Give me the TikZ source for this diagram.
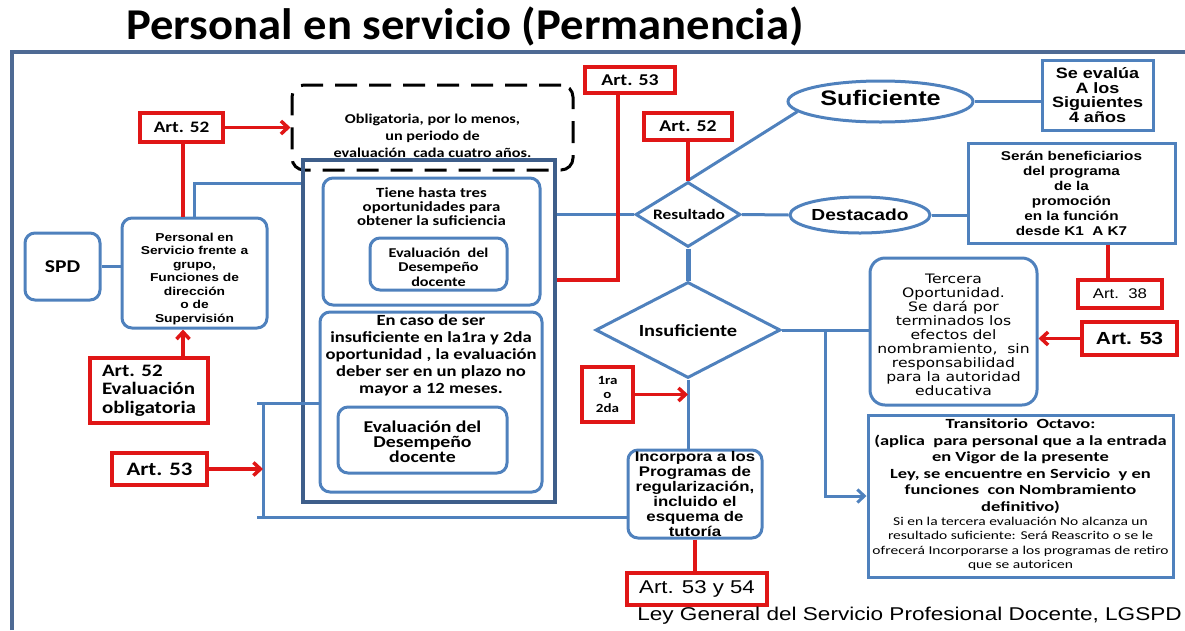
\documentclass[tikz,border=0pt]{standalone}
\usepackage{fontspec}
\setmainfont[FakeStretch=1.2]{Carlito}
\newfontfamily\arialf[FakeStretch=1.2]{Liberation Sans}
\newfontfamily\dejaf[FakeStretch=1.2]{DejaVu Sans}
\newfontfamily\titlef[FakeStretch=1.06]{Carlito}
\newfontfamily\widef[FakeStretch=1.32]{Carlito}
\newfontfamily\xwidef[FakeStretch=1.29]{Carlito}
\newfontfamily\footf[FakeStretch=1.22]{Liberation Sans}
\usetikzlibrary{shapes.geometric,arrows.meta,calc}
\definecolor{blu}{RGB}{79,129,189}
\definecolor{dblu}{RGB}{62,94,138}
\definecolor{frm}{RGB}{78,106,148}
\definecolor{rd}{RGB}{224,22,22}
\newcommand\fsz[2]{\fontsize{#1}{#2}\selectfont}
\begin{document}
\begin{tikzpicture}[x=1pt,y=-1pt,
  bl/.style={draw=blu,line width=3pt},
  rbox/.style={bl,rounded corners=10pt,inner sep=0pt},
  sbox/.style={bl,inner sep=0pt},
  redbox/.style={draw=rd,line width=3.5pt,inner sep=0pt,fill=white},
  redl/.style={draw=rd,line width=3.5pt},
  blul/.style={draw=blu,line width=3pt},
  rarr/.style={redl,-{Straight Barb[length=7pt,width=13pt]}},
  barr/.style={blul,-{Straight Barb[length=7pt,width=13pt]}},
  txt/.style={inner sep=0pt,align=center}]
\useasboundingbox (0,0) rectangle (1185,630);
% frame
\draw[draw=frm,line width=4pt] (12,630) -- (12,52) -- (1185,52);
\node[anchor=base,inner sep=0pt,font={\titlef\bfseries\fsz{44}{48}}] (title) at (465,39) {Personal en servicio (Permanencia)};
% helper coordinates
\coordinate (yA) at (0,183);
\coordinate (y280) at (0,280);
\coordinate (x618) at (618,0);
\coordinate (x1108) at (1108,0);
\coordinate (x183) at (183,0);
\coordinate (J) at (825,330);
\coordinate (B1) at (263,403);
\coordinate (B2) at (263,517);
\coordinate (B1l) at (257,403);
\coordinate (B2l) at (257,517);
% left
\node[rbox,minimum width=75pt,minimum height=67pt,font={\bfseries\fsz{18}{20}}] (spd) at (62.5,266.5) {SPD};
\node[rbox,minimum width=145pt,minimum height=110pt] (pers) at (194.5,273) {};
\node[txt,font={\arialf\bfseries\fsz{11.5}{13.5}}] (persT) at (194.5,279) {Personal en\\Servicio frente a\\grupo,\\Funciones de\\dirección\\o de\\Supervisión};
\node[redbox,minimum width=83pt,minimum height=29pt,font={\bfseries\fsz{16}{18}}] (a52a) at (181.5,127.5) {Art. 52};
\node[redbox,minimum width=118pt,minimum height=65pt,align=left,font={\bfseries\fsz{17.5}{18.5}}] (a52b) at (149,390.5) {Art. 52\\Evaluación\\obligatoria};
\node[redbox,minimum width=95pt,minimum height=32pt,font={\bfseries\fsz{19}{21}}] (a53l) at (159.5,469) {Art. 53};
% center block
\node[draw=black,line width=3pt,dash pattern=on 22pt off 12pt,rounded corners=12pt,minimum width=281pt,minimum height=85pt,inner sep=0pt] (dash) at (432.5,127.5) {};
\node[txt,font={\bfseries\fsz{13.5}{17}}] (dashT) at (432.5,135.5) {Obligatoria, por lo menos,\\un periodo de\\evaluación\ \ cada cuatro años.};
\node[draw=dblu,line width=4.5pt,minimum width=252pt,minimum height=342pt,inner sep=0pt] (big) at (429,331) {};
\node[rbox,minimum width=217pt,minimum height=127pt] (in1) at (431.5,241.5) {};
\node[txt,font={\bfseries\fsz{14}{14}}] (in1T) at (431.5,207) {Tiene hasta tres\\oportunidades para\\obtener la suficiencia};
\node[rbox,minimum width=137pt,minimum height=52pt] (ev1) at (438.5,264) {};
\node[txt,font={\bfseries\fsz{13.5}{14.5}}] (ev1T) at (438.5,267) {Evaluación\ \ del\\Desempeño\\docente};
\node[rbox,minimum width=222pt,minimum height=180pt] (in2) at (431,402) {};
\node[txt,font={\bfseries\fsz{15.5}{17}}] (in2T) at (431,355) {En caso de ser\\insuficiente en la1ra y 2da\\oportunidad , la evaluación\\deber ser en un plazo no\\mayor a 12 meses.};
\node[rbox,minimum width=169pt,minimum height=66pt] (ev2) at (422.5,440) {};
\node[txt,font={\bfseries\fsz{16.5}{15}}] (ev2T) at (422.5,442) {Evaluación del\\Desempeño\\docente};
% top red
\node[redbox,minimum width=90pt,minimum height=26pt,font={\bfseries\fsz{16.5}{18}}] (a53t) at (630,80) {Art. 53};
\node[redbox,minimum width=88pt,minimum height=27pt,font={\bfseries\fsz{16.5}{18}}] (a52t) at (688,126.5) {Art. 52};
% decisions
\node[bl,diamond,minimum width=105pt,minimum height=65pt,inner sep=0pt] (res) at (688,214.5) {};
\node[txt,font={\bfseries\fsz{14.5}{16}}] (resT) at (689,214.5) {Resultado};
\node[bl,diamond,minimum width=185pt,minimum height=96pt,inner sep=0pt] (ins) at (688,330) {};
\node[txt,font={\bfseries\fsz{17}{19}}] (insT) at (688,331) {Insuficiente};
\node[bl,ellipse,minimum width=185pt,minimum height=41pt,inner sep=0pt] (suf) at (880.5,101.5) {};
\node[txt,font={\arialf\bfseries\fsz{21}{23}}] (sufT) at (880.5,98) {Suficiente};
\node[bl,ellipse,minimum width=140pt,minimum height=36pt,inner sep=0pt] (des) at (860,215) {};
\node[txt,font={\arialf\bfseries\fsz{16}{18}}] (desT) at (860,215) {Destacado};
% right
\node[sbox,minimum width=111pt,minimum height=70pt,align=center,font={\arialf\bfseries\fsz{15}{14.5}}] (sev) at (1097.5,95) {Se evalúa\\A los\\Siguientes\\4 años};
\node[sbox,minimum width=207pt,minimum height=100pt,align=center,font={\arialf\bfseries\fsz{12.75}{15}}] (ser) at (1071.5,193) {Serán beneficiarios\\del programa\\de la\\promoción\\en la función\\desde K1\ \ A K7};
\node[redbox,minimum width=84pt,minimum height=28pt,font={\arialf\fsz{14}{16}}] (a38) at (1120,294) {Art.\ \ 38};
\node[redbox,minimum width=95pt,minimum height=33pt,font={\arialf\bfseries\fsz{17.5}{20}}] (a53r) at (1129.5,338.5) {Art. 53};
\node[rbox,rounded corners=15pt,minimum width=167pt,minimum height=147pt] (ter) at (953.5,331.5) {};
\node[txt,font={\dejaf\fsz{13}{14}}] (terT) at (953.5,335) {Tercera\\Oportunidad.\\Se dará por\\terminados los\\efectos del\\nombramiento,\ \ sin\\responsabilidad\\para la autoridad\\educativa};
\node[sbox,minimum width=305pt,minimum height=162pt] (tra) at (1020.5,496) {};
\node[txt,font={\widef\bfseries\fsz{14}{16.5}}] (traT1) at (1020.5,466) {Transitorio\ \ Octavo:\\(aplica\ \ para personal que a la entrada\\en Vigor de la presente\\Ley, se encuentre en Servicio\ \ y en\\funciones\ \ con Nombramiento\\definitivo)};
\node[txt,font={\xwidef\fsz{12}{14.5}}] (traT2) at (1020.5,544) {Si en la tercera evaluación No alcanza un\\resultado suficiente: Será Reascrito o se le\\ofrecerá Incorporarse a los programas de retiro\\que se autoricen};
% bottom center
\node[redbox,minimum width=51pt,minimum height=55pt,align=center,font={\bfseries\fsz{12.5}{14}}] (r12) at (607.5,394.5) {1ra\\o\\2da};
\node[rbox,minimum width=134pt,minimum height=88pt,align=center,font={\arialf\bfseries\fsz{14}{15}}] (inc) at (695,494) {Incorpora a los\\Programas de\\regularización,\\incluido el\\esquema de\\tutoría};
\node[redbox,minimum width=140pt,minimum height=32pt,font={\arialf\fsz{18.5}{20}}] (a5354) at (697,589) {Art. 53 y 54};
\node[anchor=base east,inner sep=0pt,font={\footf\fsz{18.5}{20}}] (foot) at (1182,620) {Ley General del Servicio Profesional Docente, LGSPD};
% blue connectors
\draw[blul] (spd.east) -- (spd.east -| pers.west);
\draw[blul] (pers.north) |- (big.west |- yA);
\draw[blul] (big.east |- res.west) -- (res.west);
\draw[blul] (res.north) -- (suf.187);
\draw[blul] (suf.east) -- (suf.east -| sev.west);
\draw[blul] (res.east) -- (des.west);
\draw[blul] (des.east) -- (des.east -| ser.west);
\draw[draw=blu,line width=5pt] (res.south) -- (ins.north);
\draw[blul] (ins.east) -- (ter.west |- ins.east);
\draw[barr] (J) |- (tra.west);
\draw[blul] (ins.south) -- (ins.south |- inc.north);
\draw[blul] (B1l) -- (in2.west |- B1l);
\draw[blul] (B1) -- (B2);
\draw[blul] (B2l) -- (inc.west |- B2l);
% red connectors
\draw[redl] (a52a.south -| x183) -- (pers.north -| x183);
\draw[rarr] (a52a.east) -- (dash.west |- a52a.east);
\draw[rarr] (a52b.north -| x183) -- (pers.south -| x183);
\draw[rarr] (a53l.east) -- (a53l.east -| B1);
\draw[redl] (a53t.south -| x618) |- (big.east |- y280);
\draw[redl] (a52t.south) -- (a52t.south |- res.north);
\draw[redl] (ser.south -| x1108) -- (a38.north -| x1108);
\draw[rarr] (a53r.west) -- (ter.east |- a53r.west);
\draw[rarr] (r12.east) -- (r12.east -| ins.south);
\draw[redl] (inc.south) -- (inc.south |- a5354.north);
\end{tikzpicture}
\end{document}
